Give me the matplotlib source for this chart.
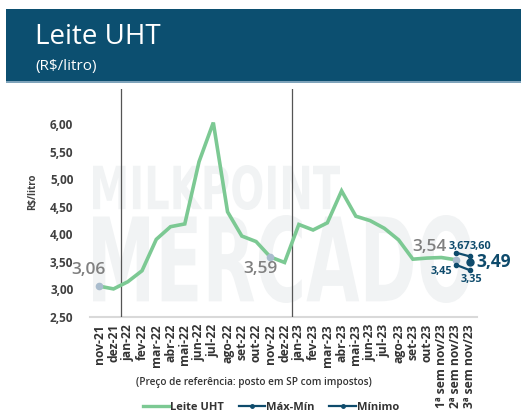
import numpy as np
import matplotlib
matplotlib.use("Agg")
import matplotlib.pyplot as plt
from matplotlib.patches import Rectangle, PathPatch
from matplotlib.textpath import TextPath
from matplotlib.font_manager import FontProperties
from matplotlib.transforms import Affine2D
from matplotlib.lines import Line2D

plt.rcParams['font.family'] = ['Open Sans', 'DejaVu Sans']

categories = ["nov-21", "dez-21", "jan-22", "fev-22", "mar-22", "abr-22", "mai-22",
              "jun-22", "jul-22", "ago-22", "set-22", "out-22", "nov-22", "dez-22",
              "jan-23", "fev-23", "mar-23", "abr-23", "mai-23", "jun-23", "jul-23",
              "ago-23", "set-23", "out-23", "1ª sem nov/23", "2ª sem nov/23",
              "3ª sem nov/23"]
leite_uht = [3.06, 3.01, 3.14, 3.34, 3.91, 4.14, 4.19, 5.32, 6.03, 4.41, 3.97,
             3.87, 3.59, 3.49, 4.18, 4.08, 4.21, 4.79, 4.33, 4.25, 4.11, 3.90,
             3.55, 3.57, 3.58, 3.54, np.nan]
range_cats = ["2ª sem nov/23", "3ª sem nov/23"]
max_vals = [3.67, 3.60]
min_vals = [3.45, 3.35]
minimo_cat = ["3ª sem nov/23"]
minimo_vals = [3.49]
labeled_cats = ["nov-21", "nov-22", "2ª sem nov/23"]
year_breaks = ["jan-22", "jan-23"]
yticks = [2.5, 3.0, 3.5, 4.0, 4.5, 5.0, 5.5, 6.0]

W, H = 521, 411
def fx(x): return x / W
def fy(y): return 1 - y / H

GREEN = "#7cc993"
DARK = "#0e4b6c"
LIGHTPT = "#a9bccd"
GRAYTXT = "#808080"

fig = plt.figure(figsize=(W / 100, H / 100), dpi=100)
fig.patch.set_facecolor("white")

# header band
fig.patches.append(Rectangle((fx(6), fy(82)), 1 - fx(6), fy(9) - fy(82),
                             transform=fig.transFigure, facecolor="#0c4f70",
                             edgecolor="none", zorder=-2))
fig.patches.append(Rectangle((fx(6), fy(83)), 1 - fx(6), fy(81) - fy(83),
                             transform=fig.transFigure, facecolor="#7ea3ba",
                             edgecolor="none", zorder=-2))
fig.text(fx(35), fy(44), "Leite UHT", color="white", fontsize=20,
         va="baseline", ha="left")
fig.text(fx(35), fy(70), "(R$/litro)", color="white", fontsize=11,
         va="baseline", ha="left")

# watermark
wm_fp = FontProperties(family="DejaVu Sans", weight="bold")
def watermark(text, x0, y0, x1, y1, color="#f1f3f4"):
    tp = TextPath((0, 0), text, size=100, prop=wm_fp)
    bb = tp.get_extents()
    sx = (x1 - x0) / W / bb.width
    sy = (y1 - y0) / H / bb.height
    tr = Affine2D().translate(-bb.x0, -bb.y0).scale(sx, sy).translate(fx(x0), fy(y1))
    p = tr.transform_path(tp)
    fig.patches.append(PathPatch(p, transform=fig.transFigure, facecolor=color,
                                 edgecolor="none", zorder=-1))
watermark("MILKPOINT", 93, 165, 340, 210)
watermark("MERCADO", 93, 215, 472, 303)

ax = fig.add_axes([fx(90), fy(317), (477 - 90) / W, (317 - 89) / H])
ax.set_facecolor("none")
x = np.arange(len(categories))
idx = {c: i for i, c in enumerate(categories)}

ax.plot(x, leite_uht, color=GREEN, lw=2.6, solid_joinstyle="miter", zorder=3)

for c in labeled_cats:
    i = idx[c]
    ax.plot(i, leite_uht[i], "o", color=LIGHTPT, ms=4.5, zorder=4)

rx = [idx[c] for c in range_cats]
ax.plot(rx, max_vals, color=DARK, lw=1.6, marker="o", ms=3, zorder=5)
ax.plot(rx, min_vals, color=DARK, lw=1.6, marker="o", ms=3, zorder=5)
mx = [idx[c] for c in minimo_cat]
ax.plot(mx, minimo_vals, "o", color=DARK, ms=5, zorder=6)

for b in year_breaks:
    ax.axvline(idx[b] - 0.5, color="#555555", lw=0.9, zorder=2)

# data labels
def lab(i, v, txt, dx, dy, ha, color, size, weight="normal"):
    ax.annotate(txt, (i, v), xytext=(dx, dy), textcoords="offset pixels",
                ha=ha, va="center", color=color, fontsize=size, fontweight=weight,
                zorder=7)

fmt = lambda v: f"{v:.2f}".replace(".", ",")
i0 = idx[labeled_cats[0]]
lab(i0, leite_uht[i0], fmt(leite_uht[i0]), 6, 16, "right", GRAYTXT, 12.5, "semibold")
i1 = idx[labeled_cats[1]]
lab(i1, leite_uht[i1], fmt(leite_uht[i1]), -10, -12, "center", GRAYTXT, 12.5, "semibold")
i2 = idx[labeled_cats[2]]
lab(i2, leite_uht[i2], fmt(leite_uht[i2]), -9, 13, "right", GRAYTXT, 12.5, "semibold")

lab(rx[0], max_vals[0], fmt(max_vals[0]), 4, 6, "center", DARK, 7.8, "bold")
lab(rx[1], max_vals[1], fmt(max_vals[1]), 11, 10, "center", DARK, 7.8, "bold")
lab(rx[0], min_vals[0], fmt(min_vals[0]), -14, -7, "center", DARK, 7.8, "bold")
lab(rx[1], min_vals[1], fmt(min_vals[1]), 2, -9, "center", DARK, 7.8, "bold")
lab(mx[0], minimo_vals[0], fmt(minimo_vals[0]), 7, 0, "left", DARK, 12.5, "bold")

ax.set_xlim(-0.65, 26.5)
ax.set_ylim(2.5, 6.64)
ax.set_yticks(yticks)
ax.set_yticklabels([fmt(v) for v in yticks], fontsize=8.5, fontweight="bold",
                   color="#404040")
ax.set_xticks(x)
ax.set_xticklabels(categories, rotation=90, fontsize=8.7, fontweight="bold",
                   color="#333333", va="top", ha="center")
ax.tick_params(axis="y", length=0, pad=12)
ax.tick_params(axis="x", length=0, pad=5)
for s in ["top", "right", "left"]:
    ax.spines[s].set_visible(False)
ax.spines["bottom"].set_color("#d9d9d9")
ax.spines["bottom"].set_linewidth(1.5)
ax.spines["bottom"].set_zorder(1)

fig.text(fx(33), fy(192), "R$/litro", rotation=90, fontsize=7, fontweight="bold",
         color="#404040", ha="center", va="center")
fig.text(fx(254), fy(382), "(Preço de referência: posto em SP com impostos)",
         fontsize=7.2, fontweight="semibold", color="#333333", ha="center", va="center")

handles = [Line2D([], [], color=GREEN, lw=2.4),
           Line2D([], [], color=DARK, lw=1.6, marker="o", ms=2.5),
           Line2D([], [], color=DARK, lw=1.6, marker="o", ms=2.5)]
fig.legend(handles, ["Leite UHT", "Máx-Mín", "Mínimo"], loc="center",
           bbox_to_anchor=(fx(271), fy(407)), ncol=3, frameon=False,
           prop={"family": "Open Sans", "weight": "bold", "size": 8},
           handlelength=2.4, handletextpad=0.1, columnspacing=1.3,
           labelcolor="#333333")

fig.savefig("out.png", dpi=100)
